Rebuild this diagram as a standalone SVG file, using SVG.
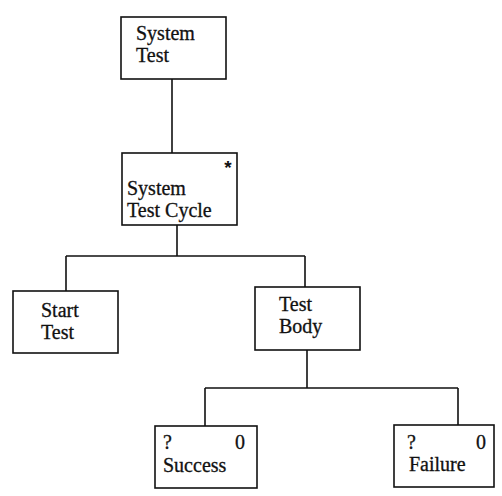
<svg xmlns="http://www.w3.org/2000/svg" width="502" height="496" viewBox="0 0 502 496">
  <style>
    .box { fill: #fff; stroke: #111; stroke-width: 1.6; }
    .wire { fill: none; stroke: #111; stroke-width: 1.6; }
    .lbl { font-family: "Liberation Serif", "Times New Roman", serif; font-size: 20px; fill: #111; stroke: #111; stroke-width: 0.3; }
    .star { font-family: "Liberation Sans", Arial, sans-serif; font-size: 19px; font-weight: bold; fill: #111; }
  </style>
  <rect width="502" height="496" fill="#fff"/>

  <g id="connectors">
    <path class="wire" d="M172 79 V153"/>
    <path class="wire" d="M177 225 V256 M66 256 H305 M66 256 V291 M305 256 V287"/>
    <path class="wire" d="M307 350 V388 M205 388 H458 M205 388 V426 M458 388 V425"/>
  </g>

  <g id="system-test">
    <rect class="box" x="121" y="17" width="105" height="62"/>
    <text class="lbl" x="136" y="40">System</text>
    <text class="lbl" x="136" y="62">Test</text>
  </g>

  <g id="system-test-cycle">
    <rect class="box" x="122" y="153" width="115" height="72"/>
    <text class="star" x="228" y="174" text-anchor="middle">*</text>
    <text class="lbl" x="127" y="195">System</text>
    <text class="lbl" x="127" y="217">Test Cycle</text>
  </g>

  <g id="start-test">
    <rect class="box" x="13" y="291" width="105" height="62"/>
    <text class="lbl" x="41" y="317">Start</text>
    <text class="lbl" x="41" y="339">Test</text>
  </g>

  <g id="test-body">
    <rect class="box" x="255" y="287" width="105" height="63"/>
    <text class="lbl" x="279" y="311">Test</text>
    <text class="lbl" x="279" y="333">Body</text>
  </g>

  <g id="success">
    <rect class="box" x="155" y="426" width="102" height="62"/>
    <text class="lbl" x="163" y="449">?</text>
    <text class="lbl" x="245" y="449" text-anchor="end">0</text>
    <text class="lbl" x="163" y="472">Success</text>
  </g>

  <g id="failure">
    <rect class="box" x="394" y="425" width="100" height="62"/>
    <text class="lbl" x="407" y="449">?</text>
    <text class="lbl" x="486" y="449" text-anchor="end">0</text>
    <text class="lbl" x="409" y="471">Failure</text>
  </g>
</svg>
